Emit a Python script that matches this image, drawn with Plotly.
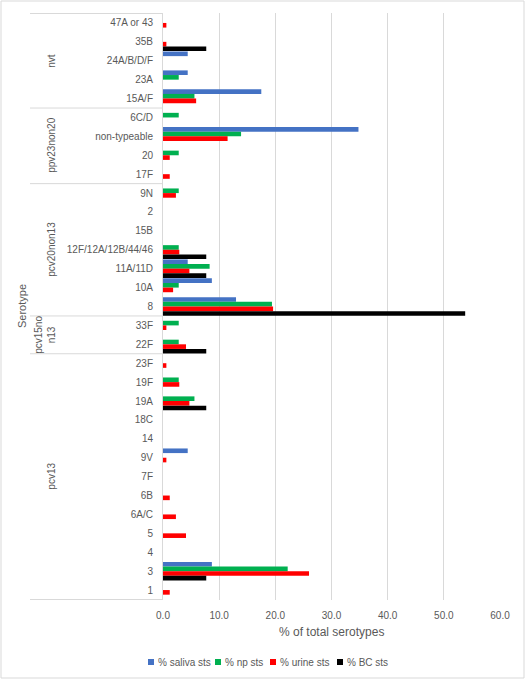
import plotly.graph_objects as go

# ---- data ----
groups = ["nvt", "ppv23non20", "pcv20non13", "pcv15no<br>n13", "pcv13"]
group_members = [
    ["47A or 43", "35B", "24A/B/D/F", "23A", "15A/F"],
    ["6C/D", "non-typeable", "20", "17F"],
    ["9N", "2", "15B", "12F/12A/12B/44/46", "11A/11D", "10A", "8"],
    ["33F", "22F"],
    ["23F", "19F", "19A", "18C", "14", "9V", "7F", "6B", "6A/C", "5", "4", "3", "1"],
]
categories = [c for g in group_members for c in g]

saliva = [0, 0, 4.4, 4.4, 17.5,
          0, 34.8, 0, 0,
          0, 0, 0, 0, 4.4, 8.7, 13.0,
          0, 0,
          0, 0, 0, 0, 0, 4.4, 0, 0, 0, 0, 0, 8.7, 0]
np_sts = [0, 0, 0, 2.8, 5.6,
          2.8, 13.9, 2.8, 0,
          2.8, 0, 0, 2.8, 8.3, 2.8, 19.4,
          2.8, 2.8,
          0, 2.8, 5.6, 0, 0, 0, 0, 0, 0, 0, 0, 22.2, 0]
urine = [0.6, 0.6, 0, 0, 5.9,
         0, 11.5, 1.2, 1.2,
         2.3, 0, 0, 2.9, 4.7, 1.8, 19.6,
         0.6, 4.1,
         0.6, 2.9, 4.7, 0, 0, 0.6, 0, 1.2, 2.3, 4.1, 0, 26.0, 1.2]
bc = [0, 7.7, 0, 0, 0,
      0, 0, 0, 0,
      0, 0, 0, 7.7, 7.7, 0, 53.8,
      0, 7.7,
      0, 0, 7.7, 0, 0, 0, 0, 0, 0, 0, 0, 7.7, 0]

series_names = ["% saliva sts", "% np sts", "% urine sts", "% BC sts"]
series_values = [saliva, np_sts, urine, bc]
colors = ["#4472C4", "#00B050", "#FF0000", "#000000"]

# ---- layout constants ----
W, H = 526, 680
ML, MR, MT, MB = 163, 26, 13, 80
PW = W - ML - MR
PH = H - MT - MB

def px_to_paper_x(px):
    return (px - ML) / PW

def px_to_paper_y(py):
    return 1 - (py - MT) / PH

FONT = "Liberation Sans"
GRAY = "#595959"

fig = go.Figure()
for name, vals, col in zip(series_names, series_values, colors):
    fig.add_trace(go.Bar(
        y=categories, x=vals, name=name, orientation="h",
        marker=dict(color=col, line=dict(width=0)),
        showlegend=False,
    ))

shapes = []
annotations = []

# group separator lines and labels
group_label_x = [52, 52, 52, 45, 52]
idx = 0
bounds = [-0.5]
for g, members, gx in zip(groups, group_members, group_label_x):
    first = idx
    last = idx + len(members) - 1
    idx += len(members)
    bounds.append(idx - 0.5)
    annotations.append(dict(
        x=px_to_paper_x(gx), xref="paper", y=(first + last) / 2, yref="y",
        text=g, showarrow=False, textangle=-90,
        font=dict(family=FONT, size=10, color=GRAY),
        xanchor="center", yanchor="middle",
    ))
for b in bounds:
    shapes.append(dict(
        type="line", xref="paper", yref="y",
        x0=px_to_paper_x(30), x1=0, y0=b, y1=b,
        line=dict(color="#D9D9D9", width=1),
    ))

# axis title "Serotype"
annotations.append(dict(
    x=px_to_paper_x(22), xref="paper", y=px_to_paper_y(306), yref="paper",
    text="Serotype", showarrow=False, textangle=-90,
    font=dict(family=FONT, size=11, color=GRAY),
    xanchor="center", yanchor="middle",
))

# x axis title
annotations.append(dict(
    x=0.5, xref="paper", y=px_to_paper_y(632), yref="paper",
    text="% of total serotypes", showarrow=False,
    font=dict(family=FONT, size=12, color=GRAY),
    xanchor="center", yanchor="middle",
))

# manual legend (swatch left px, text)
legend_x = [148, 215, 270, 337]
LY = 662
for name, col, lx in zip(series_names, colors, legend_x):
    shapes.append(dict(
        type="rect", xref="paper", yref="paper",
        x0=px_to_paper_x(lx), x1=px_to_paper_x(lx + 6),
        y0=px_to_paper_y(LY + 3), y1=px_to_paper_y(LY - 3),
        fillcolor=col, line=dict(width=0),
    ))
    annotations.append(dict(
        x=px_to_paper_x(lx + 8), xref="paper", y=px_to_paper_y(LY), yref="paper",
        text=name, showarrow=False, xanchor="left", yanchor="middle",
        font=dict(family=FONT, size=10, color=GRAY),
    ))

# chart border
shapes.append(dict(
    type="rect", xref="paper", yref="paper",
    x0=px_to_paper_x(1), x1=px_to_paper_x(W - 2),
    y0=px_to_paper_y(H - 2), y1=px_to_paper_y(1),
    line=dict(color="#D9D9D9", width=1), fillcolor="rgba(0,0,0,0)",
))

fig.update_layout(
    width=W, height=H,
    margin=dict(l=ML, r=MR, t=MT, b=MB),
    paper_bgcolor="white", plot_bgcolor="white",
    barmode="group", bargap=0.02, bargroupgap=0,
    font=dict(family=FONT, size=10, color=GRAY),
    showlegend=False,
    shapes=shapes,
    annotations=annotations,
)
fig.update_xaxes(
    range=[0, 60], dtick=10, tickformat=".1f",
    showgrid=True, gridcolor="#D9D9D9", gridwidth=1,
    zeroline=False, showline=False, ticks="",
    ticklabelstandoff=8,
    tickfont=dict(family=FONT, size=10, color=GRAY),
)
fig.update_yaxes(
    type="category", categoryorder="array", categoryarray=categories,
    autorange="reversed", showgrid=False, zeroline=False,
    showline=True, linecolor="#D9D9D9", linewidth=1, ticks="",
    ticklabelstandoff=7,
    tickfont=dict(family=FONT, size=10, color=GRAY),
)

fig.write_html("out.html", config={"displayModeBar": False},
               post_script="document.body.style.margin='0';")
